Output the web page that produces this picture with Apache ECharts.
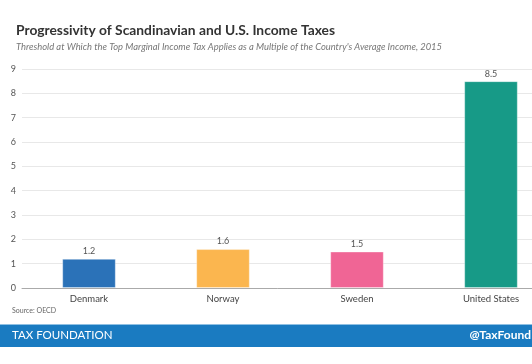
<!DOCTYPE html>
<html>
<head>
<meta charset="utf-8">
<script src="https://cdn.jsdelivr.net/npm/echarts@6/dist/echarts.min.js"></script>
<style>html,body{margin:0;padding:0;background:#fff;}#c{width:532px;height:364px;}</style>
</head>
<body>
<div id="c"></div>
<script>
const categories = ["Denmark", "Norway", "Sweden", "United States"];
const values = [1.2, 1.6, 1.5, 8.5];
const barColors = ["#2b72b8", "#fbb64f", "#f06595", "#179a87"];
const yTicks = [0, 1, 2, 3, 4, 5, 6, 7, 8, 9];

const chart = echarts.init(document.getElementById('c'), null, {renderer: 'canvas'});
const font = 'Lato, "Open Sans", sans-serif';
chart.setOption({
  animation: false,
  backgroundColor: '#fff',
  title: [
    {text: 'Progressivity of Scandinavian and U.S. Income Taxes', left: 11, top: 19,
     textStyle: {fontFamily: font, fontWeight: 'bold', fontSize: 13.8, color: '#333'}},
    {text: "Threshold at Which the Top Marginal Income Tax Applies as a Multiple of the Country's Average Income, 2015", left: 11, top: 37,
     textStyle: {fontFamily: font, fontStyle: 'italic', fontWeight: 'normal', fontSize: 9.4, color: '#777'}}
  ],
  grid: {left: 22, width: 536, top: 69, bottom: 76, outerBoundsMode: 'none', containLabel: false},
  xAxis: {
    type: 'category', data: categories,
    axisLine: {lineStyle: {color: '#aaa'}},
    axisTick: {show: false},
    axisLabel: {fontFamily: font, fontSize: 9.5, color: '#444', margin: 6}
  },
  yAxis: {
    type: 'value', min: yTicks[0], max: yTicks[yTicks.length - 1], interval: 1,
    axisLine: {show: false}, axisTick: {show: false},
    splitLine: {lineStyle: {color: '#e8e8e8'}},
    axisLabel: {fontFamily: font, fontSize: 9, color: '#555', margin: 6, align: 'right'}
  },
  series: [{
    type: 'bar', barWidth: '40%',
    data: values.map((v, i) => ({value: v, itemStyle: {color: barColors[i], borderColor: 'rgba(255,255,255,0.35)', borderWidth: 1}})),
    label: {show: true, position: 'top', distance: 3, fontFamily: font, fontSize: 9, color: '#555'}
  }],
  graphic: [
    {type: 'text', left: 12, top: 307, style: {text: 'Source: OECD', fontFamily: font, fontSize: 7, fill: '#666'}},
    {type: 'rect', shape: {x: 0, y: 324, width: 532, height: 1}, style: {fill: '#8fc0e3'}},
    {type: 'rect', shape: {x: 0, y: 325, width: 532, height: 22}, style: {fill: '#1a7bc1'}},
    {type: 'text', left: 12, top: 329, style: {text: 'TAX FOUNDATION', fontFamily: font, fontSize: 11.5, fill: '#fff'}},
    {type: 'text', right: 1, top: 329, style: {text: '@TaxFound', fontFamily: font, fontWeight: 'bold', fontSize: 12, fill: '#fff'}}
  ]
});
</script>
</body>
</html>
